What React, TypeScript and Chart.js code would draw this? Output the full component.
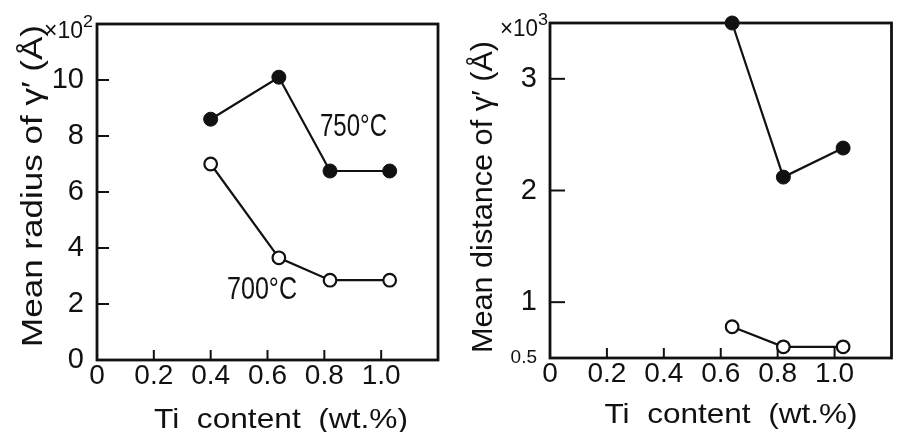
import React, { useEffect, useRef } from 'react';
import { Chart, registerables } from 'chart.js';

Chart.register(...registerables);

// ---- data ----
const tiContentRadius = [0.4, 0.64, 0.82, 1.03];
const radius750 = [8.6, 10.1, 6.75, 6.75];
const radius700 = [7.0, 3.65, 2.85, 2.85];

const tiContentDistance = [0.64, 0.82, 1.03];
const distance750 = [3.5, 2.12, 2.38];
const distance700 = [0.78, 0.6, 0.6];

const xTickValues = [0, 0.2, 0.4, 0.6, 0.8, 1.0];
const xTickLabels = ['0', '0.2', '0.4', '0.6', '0.8', '1.0'];
const radiusTickValues = [0, 2, 4, 6, 8, 10];
const radiusTickLabels = ['0', '2', '4', '6', '8', '10'];
const distanceTickValues = [0.5, 1, 2, 3];
const distanceTickLabels = ['0.5', '1', '2', '3'];

const FONT = "'Liberation Sans', 'DejaVu Sans', sans-serif";

type TextItem = {
  text: string;
  x: number; // center x (or left x if left=true)
  y: number; // baseline
  size: number;
  width?: number;
  rotate?: boolean;
  left?: boolean;
};

function drawText(ctx: CanvasRenderingContext2D, t: TextItem) {
  ctx.save();
  ctx.font = `${t.size}px ${FONT}`;
  ctx.fillStyle = '#111';
  ctx.textBaseline = 'alphabetic';
  const w = ctx.measureText(t.text).width;
  const sx = t.width ? t.width / w : 1;
  ctx.translate(t.x, t.y);
  if (t.rotate) ctx.rotate(-Math.PI / 2);
  ctx.scale(sx, 1);
  ctx.textAlign = t.left ? 'left' : 'center';
  ctx.fillText(t.text, 0, 0);
  ctx.restore();
}

type PanelSpec = {
  xs: number[];
  hot: number[];
  cold: number[];
  yMin: number;
  yMax: number;
  yTicks: number[];
  yLabels: string[];
  yWidth: number;
  xHeight: number;
  padTop: number;
  padRight: number;
  yTickLen: number;
  texts: TextItem[];
};

function makeChart(canvas: HTMLCanvasElement, p: PanelSpec) {
  const framePlugin = {
    id: 'frame',
    beforeDatasetsDraw(chart: any) {
      const { ctx, chartArea: a, scales } = chart;
      ctx.save();
      ctx.strokeStyle = '#111';
      ctx.lineWidth = 2.8;
      ctx.strokeRect(a.left, a.top, a.right - a.left, a.bottom - a.top);
      ctx.lineWidth = 2;
      xTickValues.slice(1).forEach((v) => {
        const px = scales.x.getPixelForValue(v);
        ctx.beginPath();
        ctx.moveTo(px, a.bottom);
        ctx.lineTo(px, a.bottom - 10);
        ctx.stroke();
      });
      p.yTicks.slice(1).forEach((v) => {
        const py = scales.y.getPixelForValue(v);
        ctx.beginPath();
        ctx.moveTo(a.left, py);
        ctx.lineTo(a.left + p.yTickLen, py);
        ctx.stroke();
      });
      ctx.restore();
    },
    afterDraw(chart: any) {
      const { ctx } = chart;
      p.texts.forEach((t) => drawText(ctx, t));
    },
  };

  return new Chart(canvas, {
    type: 'line',
    data: {
      datasets: [
        {
          label: '750°C',
          data: p.xs.map((x, i) => ({ x, y: p.hot[i] })),
          borderColor: '#111',
          borderWidth: 2.2,
          backgroundColor: '#111',
          pointBackgroundColor: '#111',
          pointBorderColor: '#111',
          pointBorderWidth: 1,
          pointRadius: 7,
          clip: false,
        },
        {
          label: '700°C',
          data: p.xs.map((x, i) => ({ x, y: p.cold[i] })),
          borderColor: '#111',
          borderWidth: 2.2,
          backgroundColor: '#fff',
          pointBackgroundColor: '#fff',
          pointBorderColor: '#111',
          pointBorderWidth: 2.2,
          pointRadius: 6.3,
          clip: false,
        },
      ],
    },
    options: {
      animation: false,
      responsive: false,
      devicePixelRatio: 1,
      layout: { padding: { top: p.padTop, right: p.padRight, left: 0, bottom: 0 } },
      plugins: { legend: { display: false }, tooltip: { enabled: false } },
      scales: {
        x: {
          type: 'linear',
          min: 0,
          max: 1.2,
          grid: { display: false },
          border: { display: false },
          afterBuildTicks: (s: any) => {
            s.ticks = xTickValues.map((v) => ({ value: v }));
          },
          afterFit: (s: any) => {
            s.height = p.xHeight;
          },
          ticks: {
            autoSkip: false,
            maxRotation: 0,
            padding: -6,
            color: '#111',
            font: { family: FONT, size: 28, lineHeight: 1 },
            callback: (_v: any, i: number) => xTickLabels[i],
          },
        },
        y: {
          type: 'linear',
          min: p.yMin,
          max: p.yMax,
          grid: { display: false },
          border: { display: false },
          afterBuildTicks: (s: any) => {
            s.ticks = p.yTicks.map((v) => ({ value: v }));
          },
          afterFit: (s: any) => {
            s.width = p.yWidth;
          },
          ticks: {
            autoSkip: false,
            padding: 5,
            color: '#111',
            font: (c: any) => ({
              family: FONT,
              size: c.tick && c.tick.value === 0.5 ? 19 : 29,
              lineHeight: 1,
            }),
            callback: (_v: any, i: number) => p.yLabels[i],
          },
        },
      },
    },
    plugins: [framePlugin],
  } as any);
}

const leftSpec: PanelSpec = {
  xs: tiContentRadius,
  hot: radius750,
  cold: radius700,
  yMin: 0,
  yMax: 12,
  yTicks: radiusTickValues,
  yLabels: radiusTickLabels,
  yWidth: 97,
  xHeight: 72,
  padTop: 24,
  padRight: 12,
  yTickLen: 12,
  texts: [
    { text: 'Ti  content  (wt.%)', x: 281, y: 428, size: 28, width: 254 },
    { text: 'Mean radius of γ′ (Å)', x: 42, y: 186, size: 29, width: 322, rotate: true },
    { text: '750°C', x: 320, y: 136, size: 31, width: 67, left: true },
    { text: '700°C', x: 227, y: 299, size: 31, width: 70, left: true },
    { text: '×10', x: 44, y: 38, size: 23, width: 39, left: true },
    { text: '2', x: 83, y: 27, size: 17, width: 10, left: true },
  ],
};

const rightSpec: PanelSpec = {
  xs: tiContentDistance,
  hot: distance750,
  cold: distance700,
  yMin: 0.5,
  yMax: 3.5,
  yTicks: distanceTickValues,
  yLabels: distanceTickLabels,
  yWidth: 100,
  xHeight: 74,
  padTop: 23,
  padRight: 3,
  yTickLen: 15,
  texts: [
    { text: 'Ti  content  (wt.%)', x: 281, y: 423, size: 28, width: 253 },
    { text: 'Mean distance of γ′ (Å)', x: 42, y: 197, size: 29, width: 312, rotate: true },
    { text: '×10', x: 50, y: 36, size: 23, width: 38, left: true },
    { text: '3', x: 88, y: 25, size: 17, width: 10, left: true },
  ],
};

function Panel({ spec }: { spec: PanelSpec }) {
  const ref = useRef<HTMLCanvasElement | null>(null);
  useEffect(() => {
    if (!ref.current) return;
    const chart = makeChart(ref.current, spec);
    return () => chart.destroy();
  }, [spec]);
  return <canvas ref={ref} width={450} height={432} style={{ display: 'block', width: 450, height: 432 }} />;
}

export default function App() {
  return (
    <div
      style={{
        position: 'absolute',
        left: 0,
        top: 0,
        width: 900,
        height: 432,
        background: '#fff',
        display: 'flex',
      }}
    >
      <Panel spec={leftSpec} />
      <Panel spec={rightSpec} />
    </div>
  );
}
